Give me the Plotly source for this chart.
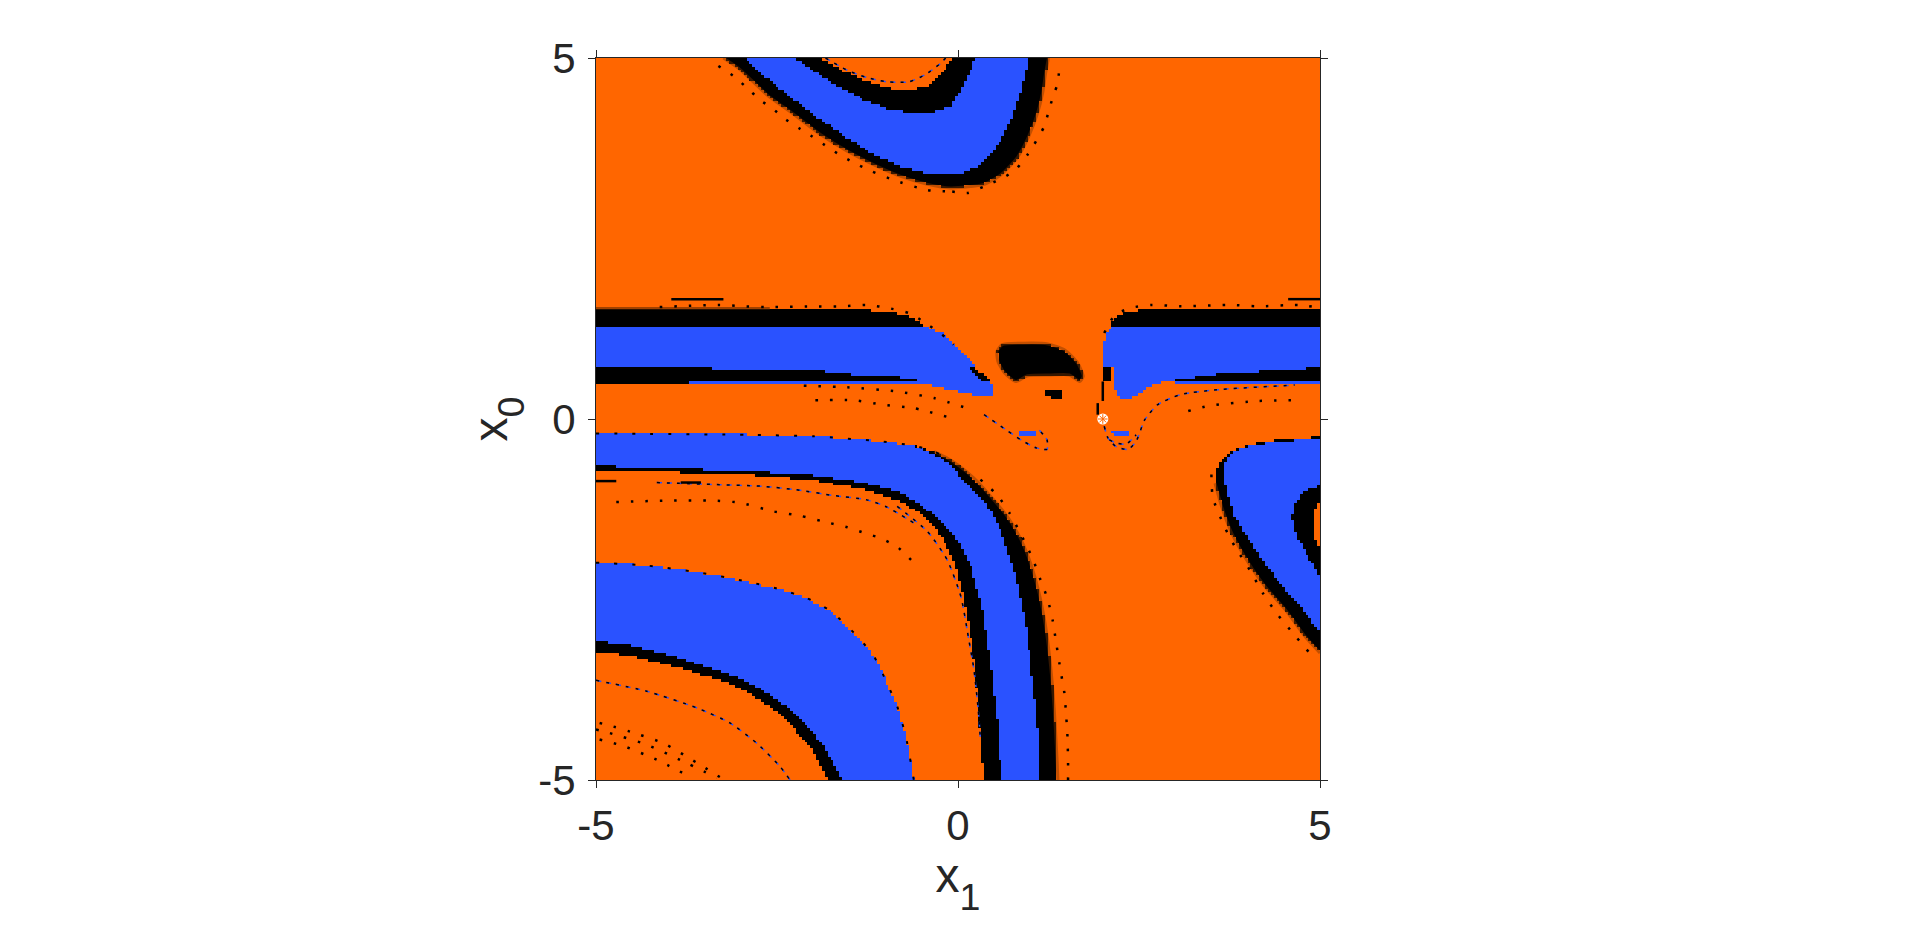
import numpy as np
import plotly.graph_objects as go

orange_color = '#FF6600'
blue_color = '#2A52FF'
black_color = '#000000'
text_color = '#262626'

# basin grid, 250 cells a side
x1_min, x1_max = -5, 5
n_cells = 250
tick_vals = [-5, 0, 5]

# upper arch, outer to inner edge (closed along the top of the box)
arch_a = [(-3.24,5),(-3.01,4.84),(-2.64,4.49),(-2.27,4.22),(-1.90,3.94),(-1.53,3.71),(-1.16,3.52),(-0.79,3.36),(-0.42,3.25),(-0.10,3.20),
          (0.36,3.25),(0.59,3.38),(0.82,3.62),(0.98,3.92),(1.10,4.24),(1.17,4.52),(1.21,4.79),(1.25,5)]
arch_b = [(-2.96,5),(-2.64,4.72),(-2.27,4.42),(-1.90,4.15),(-1.53,3.89),(-1.16,3.66),(-0.79,3.50),(-0.42,3.41),(-0.10,3.38),
          (0.04,3.41),(0.27,3.50),(0.45,3.66),(0.61,3.89),(0.75,4.19),(0.87,4.56),(0.94,4.84),(0.97,5)]
arch_c = [(-2.25,5),(-1.99,4.82),(-1.67,4.61),(-1.30,4.42),(-0.93,4.28),(-0.61,4.24),(-0.33,4.26),(-0.10,4.33),(0.11,4.68),(0.18,4.84),(0.24,5)]
arch_d = [(-1.90,5),(-1.58,4.82),(-1.26,4.68),(-0.93,4.58),(-0.61,4.56),(-0.38,4.63),(-0.19,4.82),(-0.08,5)]

# left horizontal bands
left_black_top = [(-5,1.51),(-1.30,1.51),(-0.89,1.47),(-0.61,1.40),(-0.42,1.27),(-5,1.27)]
left_blue = [(-5,1.27),(-0.42,1.27),(-0.19,1.17),(-0.01,0.98),(0.18,0.80),(0.36,0.57),(0.48,0.48),(0.48,0.31),(0.31,0.32),
             (-0.01,0.38),(-0.24,0.43),(-0.56,0.50),(-5,0.48)]
left_black_low = [(-5,0.73),(-3.70,0.71),(-2.46,0.67),(-1.86,0.66),(-1.39,0.61),(-0.79,0.58),(-0.56,0.54),(-0.56,0.51),(-3.70,0.51),(-3.70,0.49),(-5,0.49)]
wedge = [(0.15,0.72),(0.25,0.70),(0.47,0.52),(0.36,0.51)]

# central blobs
blob_big = [(0.54,0.94),(0.61,1.03),(0.91,1.05),(1.24,1.04),(1.47,0.96),(1.65,0.78),(1.73,0.59),(1.68,0.52),(1.54,0.61),(1.28,0.61),(0.96,0.60),(0.80,0.52),(0.64,0.64),(0.55,0.80)]
blob_small = [(1.17,0.42),(1.40,0.42),(1.46,0.34),(1.42,0.26),(1.31,0.27),(1.21,0.34)]

# right horizontal bands
right_black_top = [(2.11,1.27),(2.11,1.31),(2.21,1.45),(2.53,1.51),(5,1.52),(5,1.27)]
right_blue = [(2.02,1.08),(2.07,1.24),(2.14,1.27),(5,1.27),(5,0.49),(3.0,0.49),(2.99,0.54),(2.71,0.48),(2.60,0.41),(2.39,0.30),(2.25,0.28),(2.16,0.43),(2.14,0.73),(2.0,0.73)]
right_black_low = [(5,0.71),(4.79,0.70),(4.15,0.66),(3.73,0.64),(3.27,0.58),(2.99,0.54),(2.99,0.51),(5,0.51)]
right_block = [(2.01,0.73),(2.14,0.73),(2.14,0.52),(2.01,0.52)]

# lower left curved bands, closed through the bottom-left corner
curve_e1 = [(-5,-0.20),(-2.92,-0.22),(-1.99,-0.24),(-1.07,-0.31),(-0.61,-0.37),(-0.33,-0.45),(-0.15,-0.54),(-0.01,-0.63),(0.22,-0.82),(0.45,-1.07),(0.68,-1.35),
            (0.87,-1.67),(1.0,-1.99),(1.12,-2.41),(1.21,-2.87),(1.28,-3.43),(1.33,-4.03),(1.37,-4.76),(1.38,-5),(-5,-5)]
curve_e2 = [(-5,-0.20),(-2.92,-0.22),(-1.99,-0.24),(-1.07,-0.31),(-0.61,-0.37),(-0.33,-0.48),(-0.15,-0.60),(-0.01,-0.75),(0.22,-0.98),(0.41,-1.21),(0.57,-1.49),
            (0.73,-1.95),(0.84,-2.36),(0.94,-2.87),(1.0,-3.38),(1.08,-4.03),(1.12,-4.49),(1.14,-5),(-5,-5)]
curve_e3 = [(-5,-0.65),(-3.84,-0.69),(-2.92,-0.72),(-1.99,-0.78),(-1.30,-0.88),(-0.84,-1.00),(-0.52,-1.19),(-0.24,-1.40),(-0.01,-1.68),(0.18,-2.04),(0.34,-2.64),
            (0.46,-3.47),(0.55,-4.26),(0.60,-5),(-5,-5)]
curve_e4 = [(-5,-0.70),(-3.84,-0.74),(-2.92,-0.77),(-1.99,-0.85),(-1.30,-0.97),(-0.84,-1.12),(-0.52,-1.30),(-0.33,-1.49),(-0.15,-1.76),(-0.01,-2.09),(0.06,-2.40),(0.15,-2.83),
            (0.24,-3.47),(0.30,-4.26),(0.36,-5),(-5,-5)]
curve_e5 = [(-5,-1.99),(-4.30,-2.03),(-3.61,-2.12),(-2.92,-2.25),(-2.46,-2.36),(-2.09,-2.48),(-1.76,-2.66),(-1.39,-3.01),(-1.16,-3.29),(-0.98,-3.66),(-0.84,-3.98),(-0.72,-4.40),(-0.61,-5),(-5,-5)]
curve_e6 = [(-5,-3.08),(-4.53,-3.14),(-3.84,-3.31),(-3.15,-3.54),(-2.78,-3.70),(-2.36,-3.98),(-2.09,-4.23),(-1.86,-4.53),(-1.67,-4.86),(-1.61,-5),(-5,-5)]
curve_e7 = [(-5,-3.22),(-4.53,-3.28),(-3.84,-3.45),(-3.15,-3.66),(-2.87,-3.80),(-2.50,-4.05),(-2.23,-4.33),(-1.99,-4.60),(-1.81,-5),(-5,-5)]

# right wing
wing_black = [(5,-3.24),(4.79,-3.01),(4.52,-2.64),(4.24,-2.32),(4.01,-1.99),(3.78,-1.58),(3.64,-1.21),(3.55,-0.89),(3.55,-0.75),(3.61,-0.59),(3.78,-0.45),(4.01,-0.36),(4.38,-0.30),(5,-0.25)]
wing_blue = [(5,-0.27),(4.38,-0.32),(4.01,-0.38),(3.82,-0.44),(3.71,-0.54),(3.68,-0.75),(3.71,-0.98),(3.82,-1.35),(4.05,-1.72),(4.42,-2.25),(4.65,-2.50),(5,-2.96)]
wing_black_in = [(5,-0.92),(4.79,-1.0),(4.65,-1.16),(4.61,-1.35),(4.68,-1.63),(4.84,-1.91),(5,-2.20)]
wing_orange_in = [(5,-1.14),(4.92,-1.26),(4.91,-1.49),(4.95,-1.72),(5,-1.81)]

# small blue patches under the centre
patch_left = [(0.82,-0.18),(1.08,-0.18),(1.08,-0.26),(0.82,-0.26)]
patch_right = [(2.14,-0.18),(2.37,-0.18),(2.32,-0.26),(2.19,-0.26)]

# dotted edges next to the bands
dots_arch_left = [(-3.31,4.89),(-3.10,4.75),(-2.94,4.61),(-2.71,4.40),(-2.57,4.31),(-2.41,4.17),(-2.20,4.03),(-2.04,3.93),(-1.79,3.76),(-1.65,3.67),(-1.44,3.55),(-1.19,3.43),(-0.89,3.31),(-0.42,3.17),(-0.08,3.15)]
dots_arch_right = [(-0.08,3.15),(0.13,3.13),(0.36,3.22),(0.66,3.36),(0.82,3.48),(0.96,3.66),(1.05,3.80),(1.19,4.05),(1.26,4.29),(1.33,4.52),(1.38,4.65),(1.40,4.93)]
dots_band_left = [(-4.12,1.55),(-3.29,1.58),(-2.96,1.56),(-2.55,1.55),(-2.04,1.56),(-1.63,1.56),(-1.26,1.58),(-0.93,1.53),(-0.66,1.46),(-0.42,1.31),(-0.17,1.13),(-0.06,1.03)]
dots_band_right = [(2.02,1.19),(2.09,1.33),(2.18,1.45),(2.39,1.54),(2.67,1.58),(3.08,1.56),(3.78,1.58),(4.15,1.56),(4.70,1.58),(5,1.54)]
dots_curve = [(0.31,-0.84),(0.54,-1.05),(0.71,-1.30),(0.87,-1.60),(1.03,-1.93),(1.14,-2.23),(1.24,-2.50),(1.31,-2.80),(1.35,-3.06),(1.40,-3.38),(1.43,-3.56),(1.47,-3.80),(1.49,-4.05),(1.51,-4.35),(1.52,-4.72),(1.52,-5)]
dots_wing = [(3.50,-0.77),(3.52,-1.09),(3.68,-1.49),(3.82,-1.76),(4.03,-2.09),(4.21,-2.41),(4.40,-2.69),(4.68,-3.03),(4.93,-3.33)]
dots_mid_1 = [(-4.72,-1.15),(-4.0,-1.13),(-3.4,-1.13),(-3.01,-1.16),(-2.55,-1.28),(-2.18,-1.34),(-1.86,-1.42),(-1.53,-1.50),(-1.26,-1.59),(-1.07,-1.65),(-0.84,-1.77),(-0.63,-1.97)]
dots_corner_1 = [(-4.95,-4.21),(-4.76,-4.26),(-4.53,-4.33),(-4.07,-4.49),(-3.61,-4.76),(-3.24,-4.99)]
dots_corner_2 = [(-4.95,-4.44),(-4.62,-4.53),(-4.16,-4.72),(-3.75,-4.93)]
dots_corner_3 = [(-5,-4.30),(-4.81,-4.35),(-4.30,-4.51),(-3.84,-4.72),(-3.33,-4.97)]
dots_fan_1 = [(-2.13,0.46),(-1.53,0.44),(-0.84,0.38),(-0.33,0.29),(0.18,0.13)]
dots_fan_2 = [(-1.97,0.26),(-1.44,0.26),(-1.05,0.20),(-0.61,0.15),(-0.08,0.01)]
dots_fan_3 = [(3.18,0.11),(3.45,0.18),(4.15,0.25),(4.70,0.26)]

# thin blue and black threads
thread_arch = [(-1.83,5),(-1.53,4.83),(-1.26,4.73),(-0.98,4.67),(-0.68,4.67),(-0.45,4.77),(-0.26,4.91),(-0.17,5)]
thread_curve = [(-0.84,-1.21),(-0.42,-1.56),(-0.15,-1.95),(0.04,-2.46),(0.15,-3.06),(0.22,-3.47),(0.28,-4.03),(0.31,-4.44)]
thread_low = [(-5,-3.62),(-4.30,-3.77),(-3.61,-4.00),(-3.15,-4.21),(-2.78,-4.49),(-2.46,-4.81),(-2.32,-5)]
thread_mid = [(-4.16,-0.88),(-3.29,-0.91),(-2.73,-0.93),(-2.23,-0.98),(-1.72,-1.06),(-1.26,-1.12),(-0.98,-1.22),(-0.61,-1.44)]
thread_beak_left = [(0.36,0.06),(0.68,-0.16),(0.87,-0.29),(1.08,-0.40),(1.23,-0.42),(1.23,-0.29),(1.12,-0.15)]
thread_beak_right = [(2.02,-0.10),(2.07,-0.26),(2.18,-0.38),(2.35,-0.42),(2.46,-0.31),(2.58,-0.01),(2.76,0.20),(3.08,0.34),(3.64,0.41),(4.65,0.47)]
thread_beak_inner = [(2.09,-0.29),(2.18,-0.33),(2.32,-0.35),(2.46,-0.22)]

# short black dashes above the bands
dash_left = [(-3.96,1.66),(-3.24,1.66)]
dash_right = [(4.56,1.66),(5,1.66)]
dash_column = [(1.93,0.22),(1.93,0.06)]
dash_column_2 = [(2.0,0.52),(2.0,0.25)]
dash_low_1 = [(-5,-0.86),(-4.72,-0.86)]
dash_low_2 = [(-3.83,-0.88),(-3.55,-0.88)]
brown_left = [(-5,1.535),(-2.6,1.535)]

# fixed point
point_x1 = [2.0]
point_x0 = [0.0]


def inside(poly, xx, yy):
    # even-odd test of the cell centres against one outline
    px = np.array([p[0] for p in poly], dtype=float)
    py = np.array([p[1] for p in poly], dtype=float)
    mask = np.zeros(xx.shape, dtype=bool)
    for i in range(len(poly)):
        j = (i + 1) % len(poly)
        if py[i] == py[j]:
            continue
        cross = (py[i] > yy) != (py[j] > yy)
        x_at = px[i] + (yy - py[i]) * (px[j] - px[i]) / (py[j] - py[i])
        mask ^= cross & (xx < x_at)
    return mask


edges = np.linspace(x1_min, x1_max, n_cells + 1)
centres = (edges[:-1] + edges[1:]) / 2
xx, yy = np.meshgrid(centres, centres)
z = np.zeros(xx.shape)

# 0 orange, 1 blue, 2 black, painted back to front
paint = [(arch_a, 2), (arch_b, 1), (arch_c, 2), (arch_d, 0),
         (left_blue, 1), (left_black_top, 2), (left_black_low, 2), (wedge, 2),
         (blob_big, 2), (blob_small, 2),
         (right_blue, 1), (right_black_top, 2), (right_black_low, 2), (right_block, 2),
         (curve_e1, 2), (curve_e2, 1), (curve_e3, 2), (curve_e4, 0), (curve_e5, 1), (curve_e6, 2), (curve_e7, 0),
         (wing_black, 2), (wing_blue, 1), (wing_black_in, 2), (wing_orange_in, 0),
         (patch_left, 1), (patch_right, 1)]
for poly, value in paint:
    z[inside(poly, xx, yy)] = value

fig = go.Figure()
fig.add_trace(go.Heatmap(x=centres, y=centres, z=z, zmin=0, zmax=2, showscale=False, hoverinfo='skip',
                         colorscale=[[0, orange_color], [0.5, blue_color], [1, black_color]]))


def add_line(poly, color, width, dash='solid'):
    fig.add_trace(go.Scatter(x=[p[0] for p in poly], y=[p[1] for p in poly], mode='lines',
                             line=dict(color=color, width=width, dash=dash, shape='spline', smoothing=0.6),
                             showlegend=False, hoverinfo='skip'))


# soft brown fringe on the outside of the black bands
fringe = 'rgba(120,50,0,0.45)'
add_line(arch_a, fringe, 3)
add_line(curve_e1[5:-1], fringe, 3)
add_line(wing_black[:8], fringe, 3)
add_line(blob_big + blob_big[:1], fringe, 3)
add_line(brown_left, 'rgba(120,50,0,0.7)', 2.5)

for dots in [dots_arch_left, dots_arch_right, dots_band_left, dots_band_right, dots_curve, dots_wing,
             dots_mid_1, dots_corner_1, dots_corner_2, dots_corner_3, dots_fan_1, dots_fan_2, dots_fan_3]:
    add_line(dots, black_color, 2.5, '2.5px,12px')

# black specks along the hard edges of the blue bands
for edge in [curve_e5[:-1], curve_e1[:7]]:
    add_line(edge, black_color, 2, '3px,15px')

for thread in [thread_arch, thread_curve, thread_low, thread_mid, thread_beak_left, thread_beak_right, thread_beak_inner]:
    add_line(thread, blue_color, 1.5, '5px,5px')
    add_line(thread, black_color, 1.5, '3px,7px')

for dash_seg in [dash_left, dash_right, dash_column, dash_column_2, dash_low_1, dash_low_2]:
    add_line(dash_seg, black_color, 2.5)

fig.add_trace(go.Scatter(x=point_x1, y=point_x0, mode='markers', showlegend=False, hoverinfo='skip',
                         marker=dict(symbol='circle', size=11, color='white')))
fig.add_trace(go.Scatter(x=point_x1, y=point_x0, mode='markers', showlegend=False, hoverinfo='skip',
                         marker=dict(symbol='asterisk-open', size=8, color=orange_color, line=dict(color=orange_color, width=1))))

axis_style = dict(range=[x1_min, x1_max], tickvals=tick_vals, ticktext=[str(v) for v in tick_vals],
                  ticks='outside', ticklen=7, tickwidth=1, tickcolor=text_color,
                  showline=True, linecolor=text_color, linewidth=1, mirror='ticks',
                  showgrid=False, zeroline=False, layer='above traces',
                  tickfont=dict(family='Liberation Sans', size=42, color=text_color))

# nested sub drops the index as far as the original, the span brings its size back up
sub_big = '<sub><sub><span style="font-size:160%">{}</span></sub></sub>'
title_font = dict(family='Liberation Sans', size=48, color=text_color)
fig.update_xaxes(title=dict(text='x' + sub_big.format(1), font=title_font, standoff=8), ticklabelstandoff=2, **axis_style)
fig.update_yaxes(title=dict(text='x' + sub_big.format(0), font=title_font, standoff=15), ticklabelstandoff=4, **axis_style)

fig.update_layout(width=1904, height=910, autosize=False, plot_bgcolor='white', paper_bgcolor='white', showlegend=False,
                  margin=dict(l=588, r=592, t=50, b=138, autoexpand=False))

fig.write_html("out.html")
